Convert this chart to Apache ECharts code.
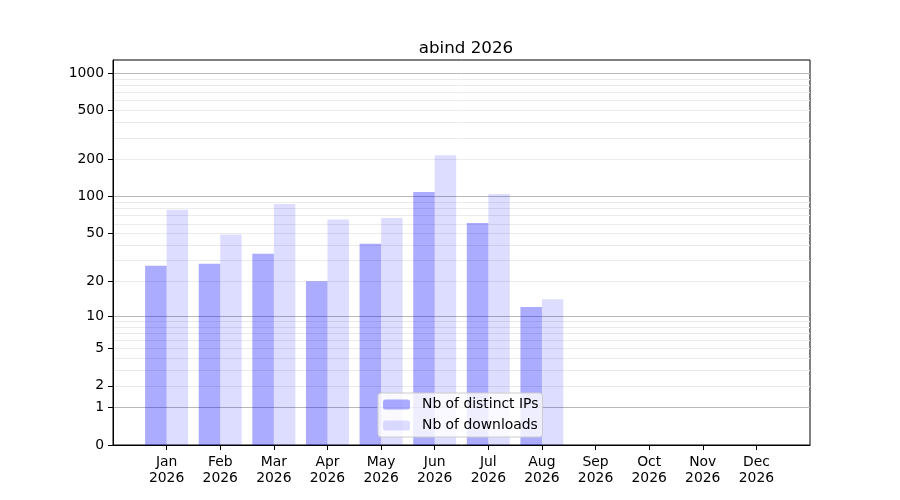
<!DOCTYPE html>
<html>
<head>
<meta charset="utf-8">
<title>abind 2026</title>
<script src="https://cdn.jsdelivr.net/npm/echarts@6/dist/echarts.min.js"></script>
<style>
  html, body { margin: 0; padding: 0; background: #fff; }
  #echarts { width: 900px; height: 500px; }
</style>
</head>
<body>
<div id="echarts"></div>
<script>
// values
var months = ['Jan', 'Feb', 'Mar', 'Apr', 'May', 'Jun', 'Jul', 'Aug', 'Sep', 'Oct', 'Nov', 'Dec'];
var year = '2026';
var distinctIps = [27, 28, 34, 20, 41, 109, 61, 12];
var downloads = [78, 49, 87, 65, 67, 217, 105, 14];
var yTickLabels = [0, 1, 2, 5, 10, 20, 50, 100, 200, 500, 1000];
var majorGrid = [1, 10, 100, 1000];
var minorGrid = [2, 3, 4, 5, 6, 7, 8, 9, 20, 30, 40, 50, 60, 70, 80, 90, 200, 300, 400, 500, 600, 700, 800, 900];

// the y scale is log10(1 + v)
function fwd(v) { return Math.log10(1 + v); }
function back(t) { return Math.round(Math.pow(10, t) - 1); }

var yMax = 3.107;
var font = 'DejaVu Sans';

function toPoints(arr) {
    return arr.map(function (v, i) { return [i + 1, fwd(v)]; });
}

var myChart = echarts.init(document.getElementById('echarts'));

var hiddenAxis = function (values, color) {
    return {
        type: 'value',
        position: 'left',
        min: 0,
        max: yMax,
        axisLine: { show: false },
        axisLabel: { show: false },
        axisTick: { show: false, customValues: values.map(fwd) },
        splitLine: { show: true, lineStyle: { color: color, width: 1 } }
    };
};

var monthPos = months.map(function (m, i) { return i + 1; });

var option = {
    animation: false,
    title: {
        text: 'abind 2026',
        left: 461,
        top: 35,
        textAlign: 'center',
        textStyle: { fontFamily: font, fontSize: 16.7, fontWeight: 'normal', color: '#000' }
    },
    grid: {
        left: 113,
        right: 90,
        top: 60,
        bottom: 55,
        show: true,
        borderColor: '#000',
        borderWidth: 1,
        backgroundColor: 'transparent'
    },
    legend: {
        orient: 'vertical',
        left: 378,
        top: 393,
        itemWidth: 27,
        itemHeight: 10,
        itemGap: 6,
        padding: [4, 4, 4, 5],
        backgroundColor: 'rgba(255,255,255,0.8)',
        borderColor: '#cccccc',
        borderWidth: 1,
        borderRadius: 3,
        textStyle: { fontFamily: font, fontSize: 13.9, lineHeight: 15, color: '#000', padding: [0, 0, 0, 7] },
        data: ['Nb of distinct IPs', 'Nb of downloads']
    },
    xAxis: {
        type: 'value',
        min: 0,
        max: 13,
        axisLine: { show: true, onZero: false, lineStyle: { color: '#000' } },
        axisTick: { show: true, length: 5, lineStyle: { color: '#000' }, customValues: monthPos },
        axisLabel: {
            show: true,
            customValues: monthPos,
            fontFamily: font,
            fontSize: 13.9,
            color: '#000',
            lineHeight: 16,
            margin: 9,
            formatter: function (v) { return months[v - 1] + '\n' + year; }
        },
        splitLine: { show: false }
    },
    yAxis: [
        {
            type: 'value',
            position: 'left',
            min: 0,
            max: yMax,
            axisLine: { show: true, lineStyle: { color: '#000' } },
            axisTick: { show: true, length: 5, lineStyle: { color: '#000' }, customValues: yTickLabels.map(fwd) },
            axisLabel: {
                show: true,
                customValues: yTickLabels.map(fwd),
                fontFamily: font,
                fontSize: 13.9,
                color: '#000',
                margin: 9,
                formatter: function (t) { return String(back(t)); }
            },
            splitLine: { show: false }
        },
        hiddenAxis(minorGrid, '#ebebeb'),
        hiddenAxis(majorGrid, '#b8b8b8')
    ],
    series: [
        {
            name: 'Nb of distinct IPs',
            type: 'bar',
            yAxisIndex: 0,
            barWidth: 21.5,
            barGap: '0%',
            itemStyle: { color: 'rgba(0,0,255,0.33)' },
            data: toPoints(distinctIps)
        },
        {
            name: 'Nb of downloads',
            type: 'bar',
            yAxisIndex: 0,
            barWidth: 21.5,
            barGap: '0%',
            itemStyle: { color: 'rgba(0,0,255,0.135)' },
            data: toPoints(downloads)
        }
    ]
};

myChart.setOption(option);
</script>
</body>
</html>
